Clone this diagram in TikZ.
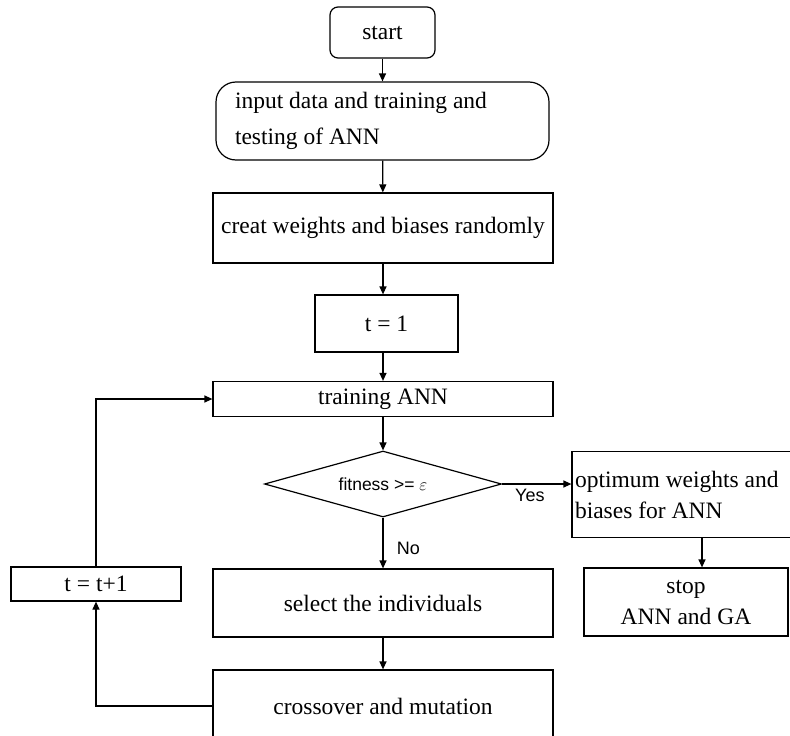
\documentclass[tikz,border=0pt]{standalone}
\usepackage{fontspec}
\setmainfont{Liberation Serif}
\setsansfont{Liberation Sans}
\usetikzlibrary{arrows.meta,shapes.geometric}
\begin{document}
\begin{tikzpicture}[x=1pt,y=-1pt,
  line width=1.2pt,
  box/.style={draw, rectangle, inner sep=0pt, font=\fontsize{23.5}{31}\selectfont},
  arr/.style={-{Triangle[length=8pt,width=7pt]}},
  lab/.style={font=\sffamily\fontsize{18}{21}\selectfont}]
\useasboundingbox (0,0) rectangle (790,736);
\node[box, rounded corners=8pt, minimum width=105pt, minimum height=51pt] (start) at (382.5,32.5) {start};
\node[box, rounded corners=20pt, minimum width=333pt, minimum height=78pt, text width=295pt, align=flush left] (input) at (382.5,121) {input data and training and\\[5pt]testing of ANN};
\node[box, minimum width=340pt, minimum height=70pt] (creat) at (383,228) {creat weights and biases randomly};
\node[box, minimum width=143pt, minimum height=57pt] (t1) at (386.5,323.5) {t = 1};
\node[box, minimum width=340pt, minimum height=35pt] (train) at (383,399) {training ANN};
\node[draw, diamond, aspect=3.6, inner sep=0pt, minimum width=237pt, minimum height=66pt, font=\sffamily\fontsize{17.5}{20}\selectfont] (fit) at (383,484) {fitness >= $\varepsilon$};
\node[box, minimum width=220pt, minimum height=86pt, text width=214pt, align=flush left] (opt) at (682,494.5) {optimum weights and\\biases for ANN};
\node[box, minimum width=204pt, minimum height=68pt, align=center] (stop) at (686,602) {stop\\ANN and GA};
\node[box, minimum width=340pt, minimum height=68pt] (sel) at (383,603) {select the individuals};
\node[box, minimum width=340pt, minimum height=72pt] (cross) at (383,706) {crossover and mutation};
\node[box, minimum width=170pt, minimum height=34pt] (tt) at (96,584) {t = t+1};
\draw[arr] (start) -- (input);
\draw[arr] (input) -- (creat);
\draw[arr] (creat) -- (t1.north -| creat.south);
\draw[arr] (t1.south -| train.north) -- (train);
\draw[arr] (train) -- (fit);
\draw[arr] (fit.east) -- node[lab, below=1pt, pos=0.4] {Yes} (fit.east -| opt.west);
\draw[arr] (fit.south) -- node[lab, right=10pt, pos=0.6] {No} (sel.north);
\draw[arr] ([xshift=20pt]opt.south) -- ([xshift=20pt]opt.south |- stop.north);
\draw[arr] (sel) -- (cross);
\draw[arr] (cross.west) -| (tt.south);
\draw[arr] (tt.north) |- (train.west);
\end{tikzpicture}
\end{document}
